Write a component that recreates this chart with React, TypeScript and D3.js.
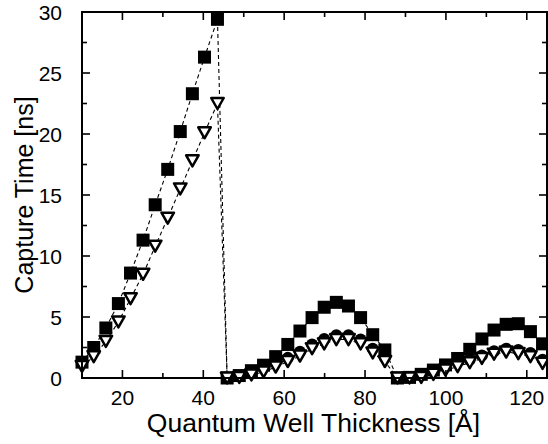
import React, { useEffect, useRef } from 'react';
import * as d3 from 'd3';

// Well thickness [Å] for each branch
const xBranch1 = [10, 12.9, 15.9, 19.0, 22.0, 25.1, 28.1, 31.2, 34.3, 37.3, 40.3, 43.5];
const xBranch2 = [45.9, 48.9, 51.9, 54.9, 57.9, 60.9, 63.9, 66.9, 69.9, 72.9, 75.9, 78.9, 81.9, 84.9];
const xBranch3 = [88.0, 91.0, 93.9, 96.9, 99.9, 102.9, 105.9, 108.9, 111.9, 114.9, 117.9, 120.9, 123.9];

// Capture time [ns], filled squares
const squares1 = [1.3, 2.5, 4.1, 6.1, 8.6, 11.3, 14.2, 17.1, 20.2, 23.3, 26.3, 29.4];
const squares2 = [0, 0.2, 0.6, 1.05, 1.75, 2.75, 3.85, 4.95, 5.8, 6.2, 5.9, 4.95, 3.55, 2.3];
const squares3 = [0, 0.05, 0.3, 0.65, 1.07, 1.6, 2.35, 3.2, 3.93, 4.4, 4.45, 3.8, 2.8];

// Capture time [ns], open triangles
const triangles1 = [0.95, 1.75, 3.0, 4.6, 6.5, 8.5, 10.8, 13.1, 15.5, 17.8, 20.1, 22.5];
const triangles2 = [0, 0.05, 0.25, 0.5, 0.9, 1.35, 1.8, 2.4, 2.8, 3.15, 3.15, 2.8, 2.05, 1.35];
const triangles3 = [0, 0, 0.05, 0.3, 0.65, 0.93, 1.25, 1.6, 1.95, 2.13, 2.0, 1.75, 1.2];

// Filled circles (mostly hidden behind the triangles)
const circleX = [60.9, 63.9, 66.9, 69.9, 72.9, 75.9, 78.9, 81.9, 84.9, 105.9, 108.9, 111.9, 114.9, 117.9, 120.9, 123.9];
const circleY = [1.65, 2.15, 2.75, 3.2, 3.5, 3.5, 3.15, 2.4, 1.7, 1.5, 1.85, 2.2, 2.4, 2.3, 2.05, 1.5];

const xTicks = [20, 40, 60, 80, 100, 120];
const yTicks = [0, 5, 10, 15, 20, 25, 30];

const App = () => {
    const svgRef = useRef<SVGSVGElement>(null);

    useEffect(() => {
        const root = d3.select(svgRef.current);
        root.selectAll("*").remove();

        const W = 548, H = 444;
        const margin = { top: 12, right: 1, bottom: 66, left: 82 };
        const width = W - margin.left - margin.right;
        const height = H - margin.top - margin.bottom;
        const font = "'Liberation Sans', Arial, Helvetica, sans-serif";

        const xAll = [...xBranch1, ...xBranch2, ...xBranch3];
        const sq = xAll.map((x, i) => ({ x, y: [...squares1, ...squares2, ...squares3][i] }));
        const tr = xAll.map((x, i) => ({ x, y: [...triangles1, ...triangles2, ...triangles3][i] }));
        const ci = circleX.map((x, i) => ({ x, y: circleY[i] }));

        const x = d3.scaleLinear().domain([10, 125]).range([0, width]);
        const y = d3.scaleLinear().domain([0, 30]).range([height, 0]);

        const g = root.append("g").attr("transform", `translate(${margin.left},${margin.top})`);

        // dashed connecting lines
        const line = d3.line<{ x: number, y: number }>().x(d => x(d.x)).y(d => y(d.y));
        [sq, tr].forEach(series => {
            g.append("path")
                .attr("d", line(series))
                .attr("fill", "none")
                .attr("stroke", "#000")
                .attr("stroke-width", 1.1)
                .attr("stroke-dasharray", "4,3");
        });

        // squares
        const s = 13;
        g.selectAll("rect.sq")
            .data(sq)
            .enter()
            .append("rect")
            .attr("x", d => x(d.x) - s / 2)
            .attr("y", d => y(d.y) - s / 2)
            .attr("width", s)
            .attr("height", s)
            .attr("fill", "#000");

        // circles
        g.selectAll("circle.ci")
            .data(ci)
            .enter()
            .append("circle")
            .attr("cx", d => x(d.x))
            .attr("cy", d => y(d.y))
            .attr("r", 6)
            .attr("fill", "#000");

        // open down triangles
        const tw = 12.5, th = 11;
        g.selectAll("path.tr")
            .data(tr)
            .enter()
            .append("path")
            .attr("d", d => {
                const cx = x(d.x), cy = y(d.y);
                return `M${cx - tw / 2},${cy - th / 2}L${cx + tw / 2},${cy - th / 2}L${cx},${cy + th / 2}Z`;
            })
            .attr("fill", "#fff")
            .attr("stroke", "#000")
            .attr("stroke-width", 2.5)
            .attr("stroke-linejoin", "round");

        // frame
        g.append("rect")
            .attr("width", width)
            .attr("height", height)
            .attr("fill", "none")
            .attr("stroke", "#000")
            .attr("stroke-width", 2);

        // ticks (inward) on all four sides
        const minorX = d3.range(10, 126, 10).filter(v => !xTicks.includes(v));
        const minorY = d3.range(2.5, 30, 5);
        const tickLines = (vals: number[], len: number) => {
            vals.forEach(v => {
                g.append("line").attr("x1", x(v)).attr("x2", x(v)).attr("y1", height).attr("y2", height - len);
                g.append("line").attr("x1", x(v)).attr("x2", x(v)).attr("y1", 0).attr("y2", len);
            });
        };
        const tickLinesY = (vals: number[], len: number) => {
            vals.forEach(v => {
                g.append("line").attr("x1", 0).attr("x2", len).attr("y1", y(v)).attr("y2", y(v));
                g.append("line").attr("x1", width).attr("x2", width - len).attr("y1", y(v)).attr("y2", y(v));
            });
        };
        tickLines(xTicks, 8);
        tickLines(minorX, 5);
        tickLinesY(yTicks.filter(v => v > 0 && v < 30), 8);
        tickLinesY(minorY, 5);
        g.selectAll("line").attr("stroke", "#000").attr("stroke-width", 1.6);

        // tick labels
        g.selectAll("text.xt")
            .data(xTicks)
            .enter()
            .append("text")
            .attr("x", d => x(d))
            .attr("y", height + 27)
            .attr("text-anchor", "middle")
            .attr("font-family", font)
            .attr("font-size", 21)
            .text(d => d);

        g.selectAll("text.yt")
            .data(yTicks)
            .enter()
            .append("text")
            .attr("x", -20)
            .attr("y", d => y(d))
            .attr("dy", "0.36em")
            .attr("text-anchor", "end")
            .attr("font-family", font)
            .attr("font-size", 21)
            .text(d => d);

        // axis titles
        g.append("text")
            .attr("x", width / 2 - 1)
            .attr("y", height + 54)
            .attr("text-anchor", "middle")
            .attr("font-family", font)
            .attr("font-size", 26.5)
            .text("Quantum Well Thickness [Å]");

        root.append("text")
            .attr("transform", `translate(33,${margin.top + 183}) rotate(-90)`)
            .attr("text-anchor", "middle")
            .attr("font-family", font)
            .attr("font-size", 25)
            .text("Capture Time [ns]");
    }, []);

    return (
        <div style={{ position: 'absolute', left: 0, top: 0 }}>
            <svg ref={svgRef} width={548} height={444} style={{ display: 'block', background: '#fff' }}></svg>
        </div>
    );
};

export default App;
